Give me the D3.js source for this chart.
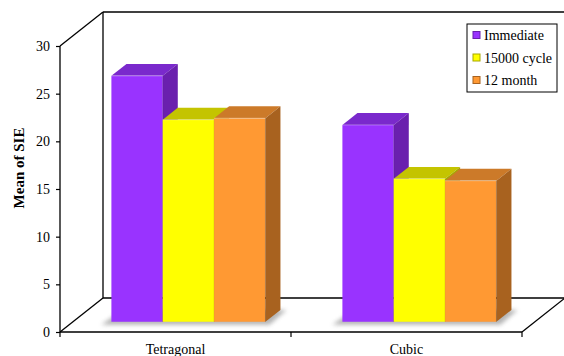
<!DOCTYPE html>
<html>
<head>
<meta charset="utf-8">
<script src="https://cdn.jsdelivr.net/npm/d3@7"></script>
<style>
  html, body { margin: 0; padding: 0; background: #fff; }
  svg { display: block; }
  text { font-family: "Liberation Serif", "Times New Roman", serif; fill: #000; }
</style>
</head>
<body>
<svg id="chart" width="564" height="356"></svg>
<script>
// Chart data
const categories = ["Tetragonal", "Cubic"];
const seriesNames = ["Immediate", "15000 cycle", "12 month"];
const immediate = [25.8, 20.65];
const cycle15000 = [21.2, 15.0];
const month12 = [21.35, 14.8];
const yTicks = [0, 5, 10, 15, 20, 25, 30];

const seriesValues = [immediate, cycle15000, month12];
const SERIF = "'Liberation Serif', 'Times New Roman', serif";

// Face colours: front, top, side
const palette = [
  { front: "#9933FF", top: "#7A29CC", side: "#6A20AE" },
  { front: "#FFFF00", top: "#C4C400", side: "#A8A800" },
  { front: "#FF9933", top: "#CC7A29", side: "#A8621F" }
];

const svg = d3.select("#chart");

// Plot box (front plane) and depth offset of the back wall
const plotL = 60, plotR = 522, plotB = 332, plotT = 46;
const depthX = 43, depthY = -34;

const x = d3.scaleBand().domain(categories).range([plotL, plotR]).paddingInner(0).paddingOuter(0);
const xs = d3.scaleBand().domain(seriesNames).range([0, x.bandwidth()]).paddingInner(0).paddingOuter(0.75);
const y = d3.scaleLinear().domain([0, 30]).range([plotB, plotT]);

// project a front-plane point back by depth fraction d
const P = (px, py, d) => [px + d * depthX, py + d * depthY];

const defs = svg.append("defs");
defs.append("filter").attr("id", "soft").attr("x", "-20%").attr("y", "-50%").attr("width", "140%").attr("height", "200%")
  .append("feGaussianBlur").attr("stdDeviation", 2.2);

const frame = svg.append("g").attr("stroke", "#000").attr("stroke-width", 1.3).attr("fill", "none");
const line = d3.line();

// back wall and floor outline
frame.append("path").attr("d", line([P(plotL, plotT, 1), [574, plotT + depthY]]));
frame.append("path").attr("d", line([P(plotL, plotT, 1), P(plotL, plotB, 1), P(plotR, plotB, 1)]));
frame.append("path").attr("d", line([[plotL, plotT], P(plotL, plotT, 1)]));
frame.append("path").attr("d", line([[plotL, plotB], P(plotL, plotB, 1)]));
frame.append("path").attr("d", line([[plotR, plotB], P(plotR, plotB, 1)]));

// Bars occupy the depth range d0..d1
const d0 = 0.3, d1 = 0.65;

const barsG = svg.append("g");

categories.forEach((cat, ci) => {
  // soft floor shadow beneath the group
  const gx0 = x(cat) + xs(seriesNames[0]);
  const gx1 = x(cat) + xs(seriesNames[2]) + xs.bandwidth();
  const sh = [P(gx0 - 10, plotB + 3, d0), P(gx1 + 4, plotB + 3, d0), P(gx1 + 6, plotB, d1), P(gx0 - 4, plotB, d1)];
  barsG.append("path").attr("d", line(sh) + "Z").attr("fill", "#777").attr("opacity", 0.55).attr("filter", "url(#soft)");

  seriesNames.forEach((s, si) => {
    const v = seriesValues[si][ci];
    const c = palette[si];
    const x0 = x(cat) + xs(s);
    const x1 = x0 + xs.bandwidth();
    const yb = plotB, yt = y(v);
    const fbl = P(x0, yb, d0), fbr = P(x1, yb, d0), ftl = P(x0, yt, d0), ftr = P(x1, yt, d0);
    const bbr = P(x1, yb, d1), btl = P(x0, yt, d1), btr = P(x1, yt, d1);
    const g = barsG.append("g");
    g.append("path").attr("d", line([fbl, fbr, ftr, ftl]) + "Z").attr("fill", c.front);
    g.append("path").attr("d", line([ftl, ftr, btr, btl]) + "Z").attr("fill", c.top);
    g.append("path").attr("d", line([fbr, bbr, btr, ftr]) + "Z").attr("fill", c.side);
    // faint edge highlights
    g.append("path").attr("d", line([ftl, ftr])).attr("stroke", "#fff").attr("stroke-opacity", 0.35).attr("stroke-width", 1);
    g.append("path").attr("d", line([ftr, fbr])).attr("stroke", "#000").attr("stroke-opacity", 0.12).attr("stroke-width", 1);
  });
});

// front axes drawn on top
const axes = svg.append("g").attr("stroke", "#000").attr("stroke-width", 1.3).attr("fill", "none");
axes.append("path").attr("d", line([[plotL, plotT], [plotL, plotB], [plotR, plotB]]));

// value axis
const yAxis = d3.axisLeft(y).tickValues(yTicks).tickSize(4).tickPadding(6).tickFormat(d3.format("d"));
const ya = svg.append("g").attr("transform", `translate(${plotL},0)`).call(yAxis)
  .attr("font-family", SERIF).attr("font-size", 14);
ya.select(".domain").remove();
ya.selectAll("line").attr("stroke", "#000").attr("stroke-width", 1.2);
ya.selectAll("text").attr("fill", "#000");

// category axis
const xAxis = d3.axisBottom(x).tickSize(0).tickPadding(12);
const xa = svg.append("g").attr("transform", `translate(0,${plotB})`).call(xAxis)
  .attr("font-family", SERIF).attr("font-size", 14);
xa.select(".domain").remove();
xa.selectAll("text").attr("fill", "#000");
// category separators
svg.append("g").selectAll("line").data([plotL, x(categories[1]), plotR]).join("line")
  .attr("x1", d => d).attr("x2", d => d).attr("y1", plotB).attr("y2", plotB + 5)
  .attr("stroke", "#000").attr("stroke-width", 1.2);

// axis title
svg.append("text")
  .attr("transform", `translate(24,${(plotT + plotB) / 2 - 21}) rotate(-90)`)
  .attr("text-anchor", "middle")
  .attr("font-family", SERIF)
  .attr("font-size", 15).attr("font-weight", "bold")
  .text("Mean of SIE");

// legend
const lg = svg.append("g").attr("transform", "translate(467,24)");
lg.append("rect").attr("width", 90).attr("height", 68).attr("fill", "#fff").attr("stroke", "#000").attr("stroke-width", 1);
seriesNames.forEach((s, i) => {
  const row = lg.append("g").attr("transform", `translate(6,${11 + i * 22.5})`);
  row.append("rect").attr("x", 0).attr("y", -3.5).attr("width", 7).attr("height", 7)
    .attr("fill", palette[i].front).attr("stroke", palette[i].side).attr("stroke-width", 1);
  row.append("text").attr("x", 11).attr("y", 5).attr("font-family", SERIF).attr("font-size", 14).text(s);
});
</script>
</body>
</html>
